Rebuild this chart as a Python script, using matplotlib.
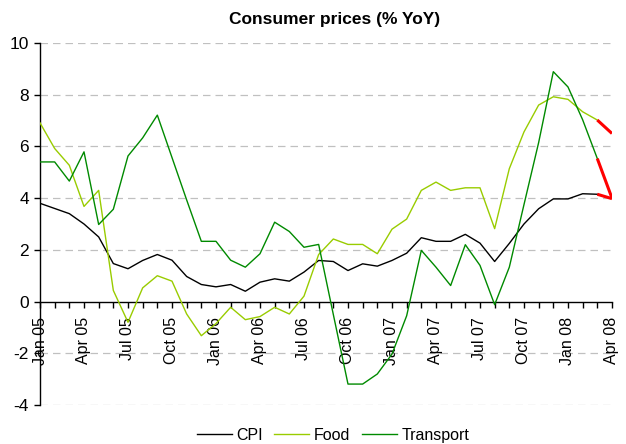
import matplotlib
matplotlib.use("Agg")
import matplotlib.pyplot as plt
import numpy as np

plt.rcParams['font.family'] = ['Liberation Sans', 'DejaVu Sans']
plt.rcParams['axes.unicode_minus'] = False

months = ['Jan 05', 'Feb 05', 'Mar 05', 'Apr 05', 'May 05', 'Jun 05', 'Jul 05', 'Aug 05',
          'Sep 05', 'Oct 05', 'Nov 05', 'Dec 05', 'Jan 06', 'Feb 06', 'Mar 06', 'Apr 06',
          'May 06', 'Jun 06', 'Jul 06', 'Aug 06', 'Sep 06', 'Oct 06', 'Nov 06', 'Dec 06',
          'Jan 07', 'Feb 07', 'Mar 07', 'Apr 07', 'May 07', 'Jun 07', 'Jul 07', 'Aug 07',
          'Sep 07', 'Oct 07', 'Nov 07', 'Dec 07', 'Jan 08', 'Feb 08', 'Mar 08', 'Apr 08']

cpi = [3.8, 3.6, 3.4, 3.0, 2.5, 1.47, 1.27, 1.59, 1.82, 1.6, 0.97, 0.66, 0.57,
       0.66, 0.4, 0.75, 0.88, 0.79, 1.14, 1.59, 1.55, 1.2, 1.46, 1.37, 1.59,
       1.87, 2.47, 2.33, 2.33, 2.6, 2.26, 1.55, 2.25, 3.0, 3.59, 3.97, 3.97,
       4.17, 4.15, 3.98]
food = [6.91, 5.92, 5.27, 3.68, 4.3, 0.43, -0.8, 0.53, 1.0, 0.79, -0.48, -1.32,
        -0.85, -0.22, -0.7, -0.58, -0.22, -0.48, 0.21, 1.82, 2.42, 2.21, 2.21,
        1.85, 2.8, 3.19, 4.3, 4.62, 4.3, 4.4, 4.4, 2.82, 5.14, 6.56, 7.6, 7.92,
        7.82, 7.34, 7.02, 6.5]
transport = [5.4, 5.4, 4.66, 5.79, 2.98, 3.57, 5.63, 6.33, 7.21, 5.57, 3.93, 2.33,
             2.33, 1.6, 1.33, 1.85, 3.07, 2.71, 2.1, 2.21, -0.5, -3.19, -3.19, -2.8,
             -2.03, -0.55, 1.98, 1.33, 0.62, 2.2, 1.4, -0.12, 1.33, 3.75, 6.15, 8.89,
             8.3, 7.03, 5.53, 4.0]

x = np.arange(len(months))

fig = plt.figure(figsize=(6.26, 4.44), dpi=100)
ax = fig.add_axes([0.0639, 0.0878, 0.9137, 0.8154])

series = [(cpi, 'black', 'CPI'), (food, '#99cc00', 'Food'), (transport, '#008a00', 'Transport')]
for vals, col, lab in series:
    ax.plot(x[:-1], vals[:-1], color=col, lw=1.0, label=lab, zorder=3)
    # last month highlighted in red
    ax.plot(x[-2:], vals[-2:], color='red', lw=2.2, zorder=4, solid_capstyle='butt')

ax.set_xlim(0, len(months) - 1)
ax.set_ylim(-4, 10)
ax.set_yticks(np.arange(-4, 11, 2))
for v in np.arange(-4, 11, 2):
    if v != 0:
        ax.axhline(v, color='#c0c0c0', lw=0.9, dashes=(6, 4), zorder=1)

ax.spines['top'].set_visible(False)
ax.spines['right'].set_visible(False)
ax.spines['bottom'].set_position(('data', 0))
ax.spines['left'].set_linewidth(1.0)
ax.spines['bottom'].set_linewidth(1.0)

ax.set_xticks(x[::3])
ax.set_xticklabels(months[::3], rotation=90, va='top', ha='center')
ax.set_xticks(x, minor=True)
ax.tick_params(axis='x', which='both', direction='out', length=4, width=1.0, pad=7, labelsize=11.5)
ax.tick_params(axis='y', direction='out', length=4, width=1.0, pad=4, labelsize=12.5)

fig.text(0.534, 0.957, 'Consumer prices (% YoY)', fontsize=12.5, fontweight='bold',
         ha='center', va='center')

fig.legend(loc='lower center', bbox_to_anchor=(0.532, -0.03), ncol=3, frameon=False,
           fontsize=11.5, handlelength=2.2, handletextpad=0.3, columnspacing=0.7)

fig.savefig('out.png', dpi=100)
